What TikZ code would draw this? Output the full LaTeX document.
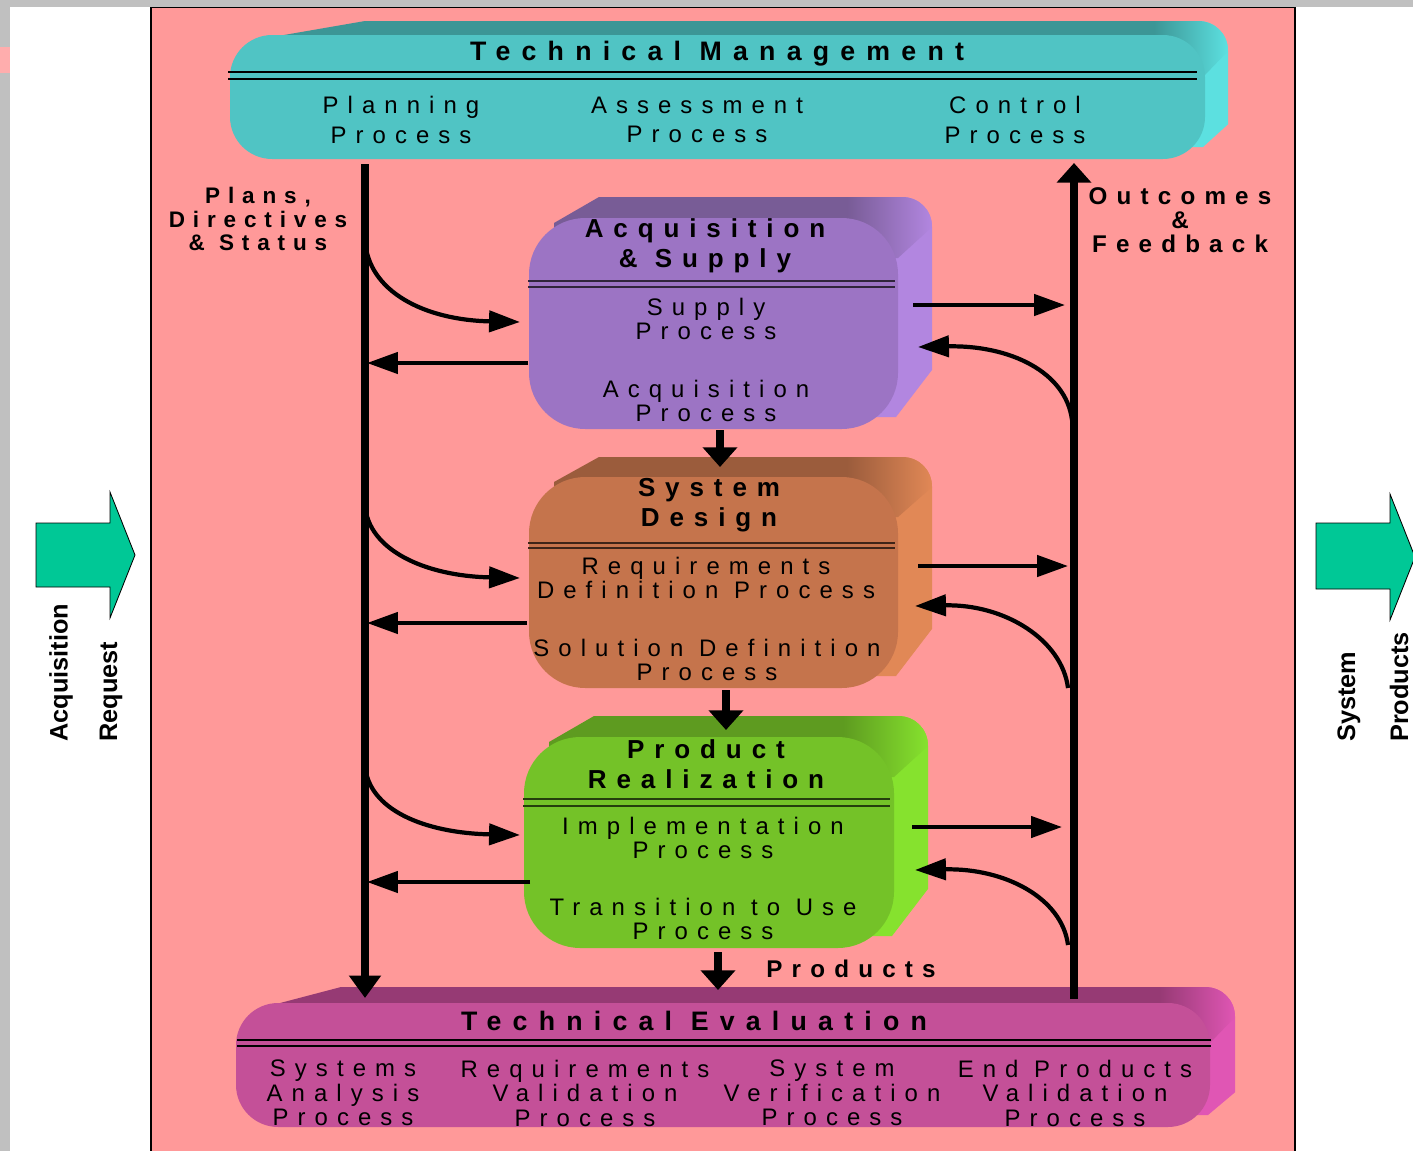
\documentclass[tikz,border=0pt]{standalone}
\usepackage{fontspec}
\setmainfont{Liberation Sans}
\newfontfamily\spaced[LetterSpace=38]{Liberation Sans}
\newfontfamily\spacedwide[LetterSpace=42]{Liberation Sans}
\newfontfamily\spacedlbl[LetterSpace=35]{Liberation Sans}
\usetikzlibrary{arrows.meta}
\definecolor{colPage}{RGB}{192,192,192}
\definecolor{colPanel}{RGB}{255,153,153}
\definecolor{colBlock}{RGB}{0,200,150}
\definecolor{tmFront}{RGB}{80,196,196}
\definecolor{tmTop}{RGB}{60,150,150}
\definecolor{tmSide}{RGB}{92,224,224}
\definecolor{asFront}{RGB}{156,116,196}
\definecolor{asTop}{RGB}{120,92,150}
\definecolor{asSide}{RGB}{178,134,224}
\definecolor{sdFront}{RGB}{197,116,76}
\definecolor{sdTop}{RGB}{155,92,60}
\definecolor{sdSide}{RGB}{225,136,86}
\definecolor{prFront}{RGB}{116,194,40}
\definecolor{prTop}{RGB}{94,155,32}
\definecolor{prSide}{RGB}{134,226,46}
\definecolor{teFront}{RGB}{196,80,152}
\definecolor{teTop}{RGB}{150,58,116}
\definecolor{teSide}{RGB}{224,86,180}

% raised slab: x1,y1,x2,y2 of the face, side depth, top depth, colour prefix, corner radius, slant
\newcommand{\slab}[9]{%
  \fill[#7Side] (#3-40,#2-#6) -- (#3+#5-30,#2-#6)
     .. controls (#3+#5-13,#2-#6) and (#3+#5,#2-#6+13) .. (#3+#5,#2-#6+30)
     -- (#3+#5,{#4-0.28*(#4-#2)}) -- (#3-2,#4-12) -- (#3-40,#4-12) -- cycle;
  \fill[#7Top] (#1+25,#2+5) -- (#1+#9,#2-#6) -- (#3-50,#2-#6) -- (#3-50,#2+30)
     -- (#1+25,#2+30) -- cycle;
  \shade[left color=#7Top, right color=#7Side] (#3-51,#2-#6) -- (#3+#5-30,#2-#6)
     .. controls (#3+#5-13,#2-#6) and (#3+#5,#2-#6+13) .. (#3+#5,#2-#6+30)
     -- (#3,#2+40) -- (#3-51,#2+40) -- cycle;
  \fill[#7Front, rounded corners=#8] (#1,#2) rectangle (#3,#4);
}

\begin{document}
\begin{tikzpicture}[
    x=0.025cm, y=-0.025cm,
    every node/.style={inner sep=0pt, align=center},
    bigtitle/.style={font=\spacedwide\bfseries\fontsize{19}{21}\selectfont},
    head/.style={font=\spaced\bfseries\fontsize{18.5}{21}\selectfont},
    sub/.style={font=\spaced\fontsize{17}{17.4}\selectfont},
    subtm/.style={font=\spaced\fontsize{17}{21}\selectfont},
    lbl/.style={font=\spacedlbl\bfseries\fontsize{16}{17}\selectfont},
    lblbig/.style={font=\spaced\bfseries\fontsize{17.2}{17.2}\selectfont},
    vlbl/.style={font=\bfseries\fontsize{18}{20}\selectfont, rotate=90, anchor=west},
    twin/.style={line width=1.8pt},
    spine/.style={line width=5.7pt},
    flow/.style={line width=3pt, -{Triangle[length=22pt,width=15pt]}},
    drop/.style={line width=6pt, -{Triangle[length=14pt,width=24pt]}},
    bigarrow/.style={draw=black, line width=0.6pt, fill=colBlock}
]
    \useasboundingbox (0,0) rectangle (1413,1151);

    % page and panel
    \fill[colPage] (0,0) rectangle (1413,1151);
    \fill[white] (10,7) rectangle (1413,1151);
    \fill[colPanel!80!white] (0,47) rectangle (10,73);
    \fill[colPanel] (151,7) rectangle (1296,1151);
    \draw[line width=1.4pt] (151,7) -- (151,1151);
    \draw[line width=1.4pt] (1295,7) -- (1295,1151);
    \draw[line width=0.6pt] (151,7) -- (1296,7);

    % input / output block arrows
    \fill[bigarrow] (36,523) -- (110,523) -- (110,492) -- (135,555) -- (110,618) -- (110,587) -- (36,587) -- cycle;
    \fill[bigarrow] (1316,523) -- (1390,523) -- (1390,494) -- (1415,557) -- (1390,620) -- (1390,589) -- (1316,589) -- cycle;
    \node[vlbl] (inA) at (61,742) {Acquisition};
    \node[vlbl] (inB) at (111,742) {Request};
    \node[vlbl] (outA) at (1349,742) {System};
    \node[vlbl] (outB) at (1399,742) {Products};

    % technical management
    \slab{230}{35}{1205}{159}{23}{14}{tm}{30}{135}
    \draw[twin] (228,72) -- (1197,72);
    \draw[twin] (228,79) -- (1197,79);
    \node[bigtitle] (tm) at (717,54) {Technical Management};
    \node[subtm] (plan) at (401,120) {Planning\\Process};
    \node[subtm] (assess) at (697,120) {Assessment\\Process};
    \node[subtm] (control) at (1015,120) {Control\\Process};

    % acquisition & supply
    \slab{529}{218}{898}{429}{34}{21}{as}{40}{70}
    \draw[line width=1.1pt, asTop!40!black] (528,281) -- (895,281);
    \draw[line width=1.1pt, asTop!40!black] (528,287) -- (895,287);
    \node[head] (acq) at (705,246) {Acquisition\\\& Supply};
    \node[sub] (supply) at (706,319) {Supply\\Process};
    \node[sub] (acquire) at (706,401) {Acquisition\\Process};

    % system design
    \slab{529}{477}{898}{688}{34}{20}{sd}{40}{70}
    \draw[line width=1.1pt, sdTop!40!black] (528,543) -- (895,543);
    \draw[line width=1.1pt, sdTop!40!black] (528,548) -- (895,548);
    \node[head] (design) at (709,505) {System\\Design};
    \node[sub] (reqdef) at (706,578) {Requirements\\Definition Process};
    \node[sub] (soldef) at (707,660) {Solution Definition\\Process};

    % product realization
    \slab{524}{737}{894}{948}{34}{21}{pr}{40}{70}
    \draw[line width=1.1pt, prTop!40!black] (523,799) -- (890,799);
    \draw[line width=1.1pt, prTop!40!black] (523,806) -- (890,806);
    \node[head] (real) at (706,764) {Product\\Realization};
    \node[sub] (impl) at (703,838) {Implementation\\Process};
    \node[sub] (trans) at (703,919) {Transition to Use\\Process};

    % technical evaluation
    \slab{236}{1003}{1210}{1127}{25}{16}{te}{30}{105}
    \draw[twin] (237,1040) -- (1211,1040);
    \draw[twin] (237,1046) -- (1211,1046);
    \node[bigtitle] (te) at (694,1021) {Technical Evaluation};
    \node[sub] (sysan) at (343,1093) {Systems\\Analysis\\Process};
    \node[sub] (reqval) at (585,1093) {Requirements\\Validation\\Process};
    \node[sub] (sysver) at (832,1093) {System\\Verification\\Process};
    \node[sub] (endval) at (1075,1093) {End Products\\Validation\\Process};

    % side labels
    \node[lbl] (plans) at (258,219) {Plans,\\Directives\\\& Status};
    \node[lblbig] (outcomes) at (1180,220) {Outcomes\\\&\\Feedback};
    \node[lblbig] (products) at (851,969) {Products};

    % the two spines
    \coordinate (plTop) at (365,164);
    \coordinate (plBot) at (365,998);
    \coordinate (ofBot) at (1074,999);
    \coordinate (ofTop) at (1074,163);
    \draw[spine, -{Triangle[length=16pt,width=22pt]}] (plTop) -- (plBot);
    \draw[spine, -{Triangle[length=14pt,width=24pt]}] (ofBot) -- (ofTop);

    % directives into each block
    \coordinate (dirA) at (365,240);  \coordinate (inAS) at (520,322);
    \coordinate (dirB) at (365,505);  \coordinate (inSD) at (520,578);
    \coordinate (dirC) at (365,765);  \coordinate (inPR) at (520,835);
    \draw[flow] (dirA) .. controls (368,292) and (425,320) .. (inAS);
    \draw[flow] (dirB) .. controls (368,550) and (425,576) .. (inSD);
    \draw[flow] (dirC) .. controls (368,810) and (425,833) .. (inPR);

    % status back to the left spine
    \coordinate (stA) at (528,363);  \coordinate (stA') at (367,363);
    \coordinate (stB) at (527,623);  \coordinate (stB') at (367,623);
    \coordinate (stC) at (530,882);  \coordinate (stC') at (367,882);
    \draw[flow] (stA) -- (stA');
    \draw[flow] (stB) -- (stB');
    \draw[flow] (stC) -- (stC');

    % outcomes to the right spine
    \coordinate (ocA) at (913,305);  \coordinate (ocA') at (1065,305);
    \coordinate (ocB) at (918,566);  \coordinate (ocB') at (1068,566);
    \coordinate (ocC) at (912,827);  \coordinate (ocC') at (1062,827);
    \draw[flow] (ocA) -- (ocA');
    \draw[flow] (ocB) -- (ocB');
    \draw[flow] (ocC) -- (ocC');

    % feedback from the right spine
    \coordinate (fbA) at (1072,420);  \coordinate (fbA') at (918,347);
    \coordinate (fbB) at (1068,688);  \coordinate (fbB') at (915,606);
    \coordinate (fbC) at (1068,945);  \coordinate (fbC') at (915,870);
    \draw[flow] (fbA) .. controls (1066,372) and (1010,345) .. (fbA');
    \draw[flow] (fbB) .. controls (1062,640) and (1005,604) .. (fbB');
    \draw[flow] (fbC) .. controls (1062,898) and (1005,868) .. (fbC');

    % block to block
    \coordinate (dnA) at (720,430);  \coordinate (dnA') at (720,467);
    \coordinate (dnB) at (726,690);  \coordinate (dnB') at (726,730);
    \coordinate (dnC) at (718,952);  \coordinate (dnC') at (718,990);
    \draw[drop] (dnA) -- (dnA');
    \draw[drop] (dnB) -- (dnB');
    \draw[drop] (dnC) -- (dnC');
\end{tikzpicture}
\end{document}
